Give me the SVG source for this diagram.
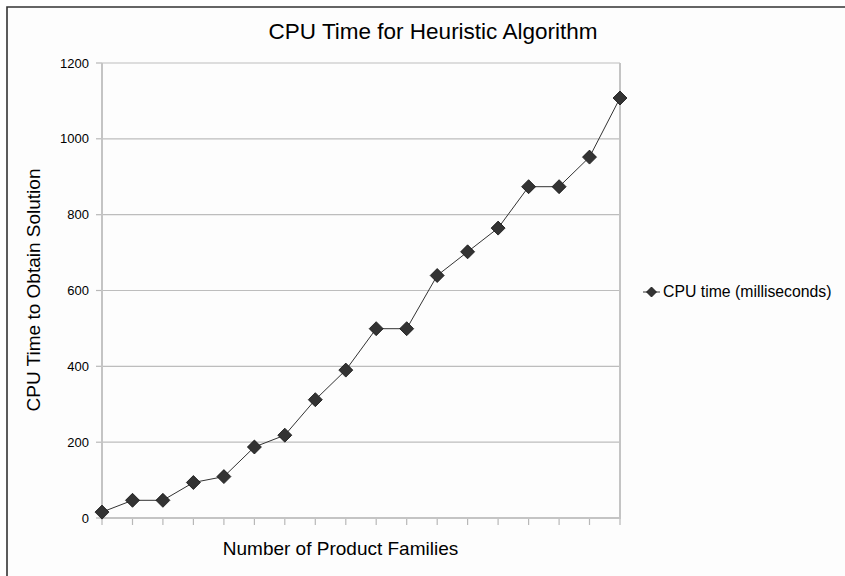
<svg xmlns="http://www.w3.org/2000/svg" width="845" height="576" viewBox="0 0 845 576">
<style>
text{font-family:"Liberation Sans",Arial,sans-serif;fill:#000}
.grid{stroke:#bdbdbd;stroke-width:1.2}
.axis{stroke:#c4c4c4;stroke-width:2;fill:none}
.tick{stroke:#b8b8b8;stroke-width:1.2}
.ylab{font-size:13px;text-anchor:end}
.mk{fill:#333;stroke:#111;stroke-width:0.8}
</style>
<defs>
<path id="dia" d="M0,-7 L7,0 L0,7 L-7,0 Z" class="mk"/>
</defs>
<rect x="0" y="0" width="845" height="576" fill="#fff"/>
<rect x="7" y="7" width="838" height="569" fill="#fdfdfd"/>
<path d="M7,576 V7 H845" fill="none" stroke="#333" stroke-width="1.6"/>
<text x="433" y="39" font-size="22.5" text-anchor="middle">CPU Time for Heuristic Algorithm</text>
<g id="grid">
<line class="grid" x1="102" y1="63" x2="620" y2="63"/>
<line class="grid" x1="102" y1="138.8" x2="620" y2="138.8"/>
<line class="grid" x1="102" y1="214.7" x2="620" y2="214.7"/>
<line class="grid" x1="102" y1="290.5" x2="620" y2="290.5"/>
<line class="grid" x1="102" y1="366.3" x2="620" y2="366.3"/>
<line class="grid" x1="102" y1="442.2" x2="620" y2="442.2"/>
<line class="tick" x1="96" y1="63" x2="102" y2="63"/>
<line class="tick" x1="96" y1="138.8" x2="102" y2="138.8"/>
<line class="tick" x1="96" y1="214.7" x2="102" y2="214.7"/>
<line class="tick" x1="96" y1="290.5" x2="102" y2="290.5"/>
<line class="tick" x1="96" y1="366.3" x2="102" y2="366.3"/>
<line class="tick" x1="96" y1="442.2" x2="102" y2="442.2"/>
<line class="tick" x1="96" y1="518" x2="102" y2="518"/>
</g>
<g id="xticks">
<path class="tick" d="M102,518v7 M132.5,518v7 M162.9,518v7 M193.4,518v7 M223.9,518v7 M254.4,518v7 M284.8,518v7 M315.3,518v7 M345.8,518v7 M376.2,518v7 M406.7,518v7 M437.2,518v7 M467.6,518v7 M498.1,518v7 M528.6,518v7 M559.1,518v7 M589.5,518v7 M620,518v7"/>
</g>
<path class="axis" d="M102,63 V518 H620 V63"/>
<g id="ylabels">
<text class="ylab" x="89" y="67.5">1200</text>
<text class="ylab" x="89" y="143.3">1000</text>
<text class="ylab" x="89" y="219.2">800</text>
<text class="ylab" x="89" y="295">600</text>
<text class="ylab" x="89" y="370.8">400</text>
<text class="ylab" x="89" y="446.7">200</text>
<text class="ylab" x="89" y="522.5">0</text>
</g>
<text x="340.5" y="555" font-size="19" text-anchor="middle">Number of Product Families</text>
<text transform="translate(40,290) rotate(-90)" font-size="19" text-anchor="middle">CPU Time to Obtain Solution</text>
<g id="connectors">
<polyline fill="none" stroke="#333" stroke-width="1" points="102,512.1 132.5,500.3 162.9,500.3 193.4,482.5 223.9,476.6 254.4,447 284.8,435.2 315.3,399.7 345.8,370.1 376.2,328.7 406.7,328.7 437.2,275.5 467.6,251.8 498.1,228.1 528.6,186.7 559.1,186.7 589.5,157.1 620,98"/>
</g>
<g id="points">
<use href="#dia" x="102" y="512.1"/>
<use href="#dia" x="132.5" y="500.3"/>
<use href="#dia" x="162.9" y="500.3"/>
<use href="#dia" x="193.4" y="482.5"/>
<use href="#dia" x="223.9" y="476.6"/>
<use href="#dia" x="254.4" y="447"/>
<use href="#dia" x="284.8" y="435.2"/>
<use href="#dia" x="315.3" y="399.7"/>
<use href="#dia" x="345.8" y="370.1"/>
<use href="#dia" x="376.2" y="328.7"/>
<use href="#dia" x="406.7" y="328.7"/>
<use href="#dia" x="437.2" y="275.5"/>
<use href="#dia" x="467.6" y="251.8"/>
<use href="#dia" x="498.1" y="228.1"/>
<use href="#dia" x="528.6" y="186.7"/>
<use href="#dia" x="559.1" y="186.7"/>
<use href="#dia" x="589.5" y="157.1"/>
<use href="#dia" x="620" y="98"/>
</g>
<g id="legend">
<line x1="643" y1="292" x2="660" y2="292" stroke="#333" stroke-width="1"/>
<path d="M651.5,-5 l5,5 l-5,5 l-5,-5 Z" transform="translate(0,292)" class="mk"/>
<text x="663" y="297" font-size="15.8">CPU time (milliseconds)</text>
</g>
</svg>
